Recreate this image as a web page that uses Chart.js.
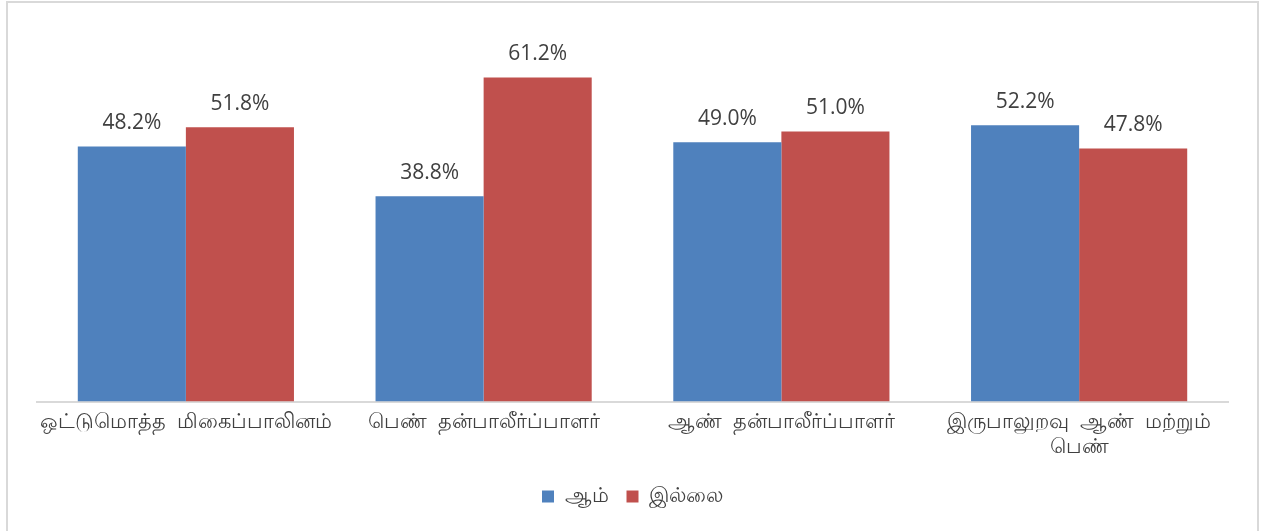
<!DOCTYPE html>
<html>
<head>
<meta charset="utf-8">
<script src="https://cdn.jsdelivr.net/npm/chart.js@4"></script>
<style>
  html, body { margin: 0; padding: 0; background: #fff; }
  #wrap { width: 1269px; height: 531px; position: relative; }
</style>
</head>
<body>
<div id="wrap"><canvas id="chart" width="1269" height="531"></canvas></div>
<script>
// categories and series values
const categories = [
  'ஒட்டுமொத்த  மிகைப்பாலினம்',
  'பெண்  தன்பாலீர்ப்பாளர்',
  'ஆண்  தன்பாலீர்ப்பாளர்',
  ['இருபாலுறவு  ஆண்  மற்றும்', 'பெண்']
];
const seriesNames = ['ஆம்', 'இல்லை'];
const yesValues = [48.2, 38.8, 49.0, 52.2];
const noValues = [51.8, 61.2, 51.0, 47.8];

const textColor = '#404040';

// border round the whole chart, like the office chart frame
const framePlugin = {
  id: 'frame',
  beforeDraw(chart) {
    const ctx = chart.ctx;
    ctx.save();
    ctx.fillStyle = '#fff';
    ctx.fillRect(0, 0, chart.width, chart.height);
    ctx.strokeStyle = '#d9d9d9';
    ctx.lineWidth = 2;
    ctx.strokeRect(7, 2, 1251, 540);
    ctx.restore();
  }
};

// value labels on top of each bar
const valueLabels = {
  id: 'valueLabels',
  afterDatasetsDraw(chart) {
    const ctx = chart.ctx;
    ctx.save();
    ctx.font = '21px "Open Sans", "Liberation Sans", sans-serif';
    ctx.fillStyle = textColor;
    ctx.textAlign = 'center';
    ctx.textBaseline = 'bottom';
    chart.data.datasets.forEach((ds, i) => {
      chart.getDatasetMeta(i).data.forEach((bar, j) => {
        ctx.fillText(ds.data[j].toFixed(1) + '%', bar.x, bar.y - 13);
      });
    });
    ctx.restore();
  }
};

const ctx = document.getElementById('chart');
const chart = new Chart(ctx, {
  type: 'bar',
  data: {
    labels: categories,
    datasets: [
      { label: seriesNames[0], data: yesValues, backgroundColor: '#4F81BD' },
      { label: seriesNames[1], data: noValues, backgroundColor: '#C0504D' }
    ]
  },
  options: {
    responsive: false,
    animation: false,
    layout: { padding: { left: 37, right: 41, top: 31, bottom: 14 } },
    datasets: { bar: { categoryPercentage: 0.726, barPercentage: 1.0 } },
    scales: {
      x: {
        grid: { display: false, drawTicks: false },
        border: { display: true, color: '#d9d9d9', width: 2 },
        ticks: {
          color: textColor,
          font: { family: '"Noto Sans", "Open Sans", sans-serif', size: 21 },
          padding: 8,
          maxRotation: 0,
          autoSkip: false
        }
      },
      y: {
        display: false,
        min: 0,
        max: 70
      }
    },
    plugins: {
      legend: {
        position: 'bottom',
        labels: {
          color: textColor,
          font: { family: '"Noto Sans", "Open Sans", sans-serif', size: 21 },
          boxWidth: 12,
          boxHeight: 12,
          padding: 18
        }
      },
      tooltip: { enabled: false }
    }
  },
  plugins: [framePlugin, valueLabels]
});
</script>
</body>
</html>
